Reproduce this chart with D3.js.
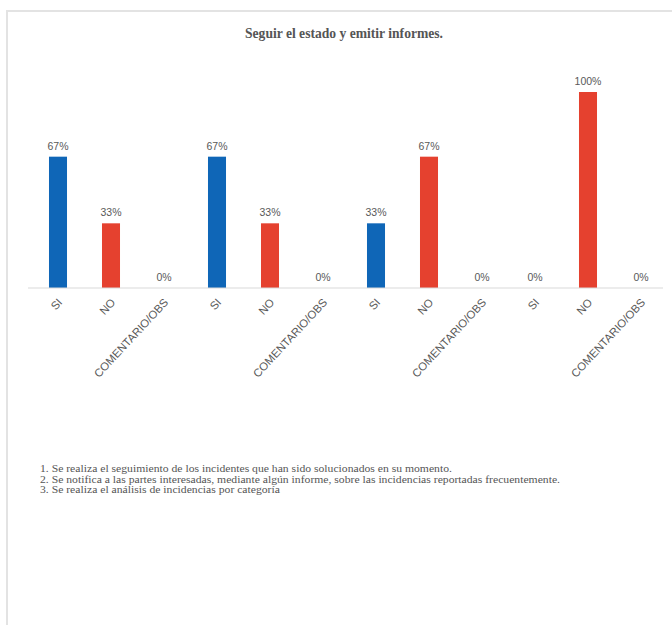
<!DOCTYPE html>
<html>
<head>
<meta charset="utf-8">
<script src="https://cdn.jsdelivr.net/npm/d3@7"></script>
<style>
  html, body { margin: 0; padding: 0; background: #fff; }
  svg { display: block; }
</style>
</head>
<body>
<svg id="chart" width="672" height="625"></svg>
<script>
// Answer options repeated for each of the four questions
const groups = ["1", "2", "3", "4"];
const options = ["SI", "NO", "COMENTARIO/OBS"];
// Percentage of answers per question
const siValues = [67, 67, 33, 0];
const noValues = [33, 33, 67, 100];
const comentarioValues = [0, 0, 0, 0];
const optionColors = { "SI": "#0f66b7", "NO": "#e5412f", "COMENTARIO/OBS": "#7f7f7f" };
const title = "Seguir el estado y emitir informes.";
const notes = [
  "1. Se realiza el seguimiento de los incidentes que han sido solucionados en su momento.",
  "2. Se notifica a las partes interesadas, mediante algún  informe, sobre las incidencias reportadas frecuentemente.",
  "3. Se realiza el análisis de incidencias por categoría"
];

const rows = [];
groups.forEach((g, i) => {
  rows.push({ key: g + "-SI", option: "SI", value: siValues[i] });
  rows.push({ key: g + "-NO", option: "NO", value: noValues[i] });
  rows.push({ key: g + "-COM", option: "COMENTARIO/OBS", value: comentarioValues[i] });
});

const svg = d3.select("#chart");

// frame edges
svg.append("line").attr("x1", 7).attr("x2", 672).attr("y1", 11).attr("y2", 11)
  .attr("stroke", "#e3e3e3").attr("stroke-width", 2);
svg.append("line").attr("x1", 7).attr("x2", 7).attr("y1", 10).attr("y2", 625)
  .attr("stroke", "#e3e3e3").attr("stroke-width", 2);

// title
svg.append("text")
  .attr("x", 344).attr("y", 38)
  .attr("text-anchor", "middle")
  .attr("font-family", "'Liberation Serif', 'Times New Roman', serif")
  .attr("font-weight", "bold")
  .attr("font-size", 14.5)
  .attr("fill", "#555")
  .attr("textLength", 198)
  .attr("lengthAdjust", "spacingAndGlyphs")
  .text(title);

const x = d3.scaleBand()
  .domain(rows.map(d => d.key))
  .range([31.5, 667.5])
  .paddingInner(0.66)
  .paddingOuter(0.33);

const y = d3.scaleLinear().domain([0, 100]).range([288, 92]);

// bars
svg.append("g").selectAll("rect")
  .data(rows)
  .join("rect")
  .attr("x", d => x(d.key))
  .attr("y", d => y(d.value))
  .attr("width", x.bandwidth())
  .attr("height", d => y(0) - y(d.value))
  .attr("fill", d => optionColors[d.option]);

// value labels
svg.append("g").selectAll("text")
  .data(rows)
  .join("text")
  .attr("x", d => x(d.key) + x.bandwidth() / 2)
  .attr("y", d => y(d.value) - 7)
  .attr("text-anchor", "middle")
  .attr("font-family", "'Liberation Sans', Arial, sans-serif")
  .attr("font-size", 10.5)
  .attr("fill", "#595959")
  .text(d => d.value + "%");

// category axis
const axis = d3.axisBottom(x).tickSize(0).tickFormat(k => rows.find(r => r.key === k).option);
const gx = svg.append("g").attr("transform", "translate(0," + y(0) + ")").call(axis);
gx.attr("font-size", null).attr("font-family", null);
gx.select(".domain").attr("stroke", "#d9d9d9").attr("d", "M28,0H663");
gx.selectAll(".tick text")
  .attr("font-family", "'Liberation Sans', Arial, sans-serif")
  .attr("font-size", 11.3)
  .attr("fill", "#595959")
  .attr("text-anchor", "end")
  .attr("dy", null)
  .attr("y", 0)
  .attr("transform", "translate(5,15) rotate(-47)");

// question notes, stretched slightly wider than the plain serif face
const noteText = svg.append("g").selectAll("text")
  .data(notes)
  .join("text")
  .attr("x", 40)
  .attr("y", (d, i) => 472 + i * 10.5)
  .attr("font-family", "'Liberation Serif', 'Times New Roman', serif")
  .attr("font-size", 10.3)
  .attr("fill", "#555")
  .text(d => d);
const stretch = 520 / noteText.nodes()[1].getComputedTextLength();
noteText.each(function () {
  d3.select(this)
    .attr("textLength", this.getComputedTextLength() * stretch)
    .attr("lengthAdjust", "spacingAndGlyphs");
});
</script>
</body>
</html>
